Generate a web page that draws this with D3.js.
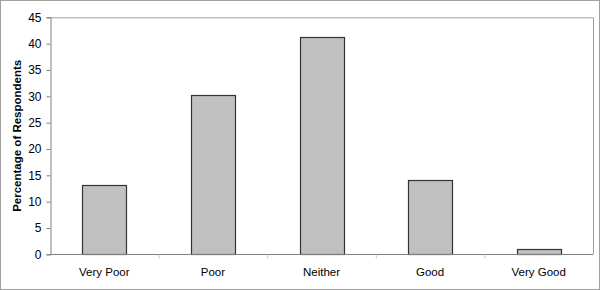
<!DOCTYPE html>
<html><head><meta charset="utf-8">
<script src="https://cdn.jsdelivr.net/npm/d3@7"></script>
<style>body{margin:0;background:#fff}svg{display:block}</style>
</head><body>
<script>
const categories = ["Very Poor","Poor","Neither","Good","Very Good"];
const values = [13.1, 30.3, 41.3, 14.1, 1.1];
const yTicks = [0,5,10,15,20,25,30,35,40,45];
const yTitle = "Percentage of Respondents";

const W=600,H=290;
const m={left:50,right:7,top:17.3,bottom:35.7};
const svg=d3.select("body").append("svg").attr("width",W).attr("height",H);
svg.append("rect").attr("x",0.5).attr("y",0.5).attr("width",W-1).attr("height",H-1)
  .attr("fill","#fff").attr("stroke","#a0a0a0");

const x=d3.scaleBand().domain(categories).range([m.left,W-m.right]).paddingInner(0.595).paddingOuter(0.2975);
const xb=d3.scaleBand().domain(categories).range([m.left,W-m.right]);
const y=d3.scaleLinear().domain([0,45]).range([H-m.bottom,m.top]);

// plot area border (top, right)
svg.append("path").attr("d",`M${m.left},${m.top+0.5}H${W-m.right+0.5}V${H-m.bottom}`)
  .attr("fill","none").attr("stroke","#a0a0a0");

svg.append("g").selectAll("rect").data(values).join("rect")
  .attr("x",(d,i)=>Math.round(x(categories[i]))+0.5)
  .attr("y",d=>Math.round(y(d))+0.5)
  .attr("width",Math.round(x.bandwidth()))
  .attr("height",d=>Math.round(y(0))-Math.round(y(d)))
  .attr("fill","#c0c0c0").attr("stroke","#333").attr("stroke-width",1.2);

// y axis
const ya=svg.append("g").attr("transform",`translate(${m.left+0.5},0)`)
  .call(d3.axisLeft(y).tickValues(yTicks).tickSize(4).tickPadding(5));
ya.select(".domain").attr("stroke","#808080");
ya.selectAll(".tick line").attr("stroke","#808080");
ya.selectAll("text").attr("font-family","Liberation Sans, Arial, sans-serif").attr("font-size",12).attr("fill","#000");

// x axis
const xa=svg.append("g").attr("transform",`translate(0,${Math.round(y(0))+0.5})`);
xa.append("line").attr("x1",m.left).attr("x2",W-m.right).attr("stroke","#808080");
xa.selectAll("line.t").data(categories.slice(1)).join("line").attr("class","t")
  .attr("x1",d=>xb(d)+0.5).attr("x2",d=>xb(d)+0.5).attr("y1",0).attr("y2",4).attr("stroke","#c8c8c8");
xa.selectAll("text").data(categories).join("text")
  .attr("x",d=>xb(d)+xb.bandwidth()/2).attr("y",21)
  .attr("text-anchor","middle").attr("font-family","Liberation Sans, Arial, sans-serif")
  .attr("font-size",11.5).attr("fill","#000").text(d=>d);

svg.append("text").attr("transform",`translate(21,${(m.top+H-m.bottom)/2}) rotate(-90)`)
  .attr("text-anchor","middle").attr("font-family","Liberation Sans, Arial, sans-serif")
  .attr("font-weight","bold").attr("font-size",11.5).text(yTitle);
</script>
</body></html>
